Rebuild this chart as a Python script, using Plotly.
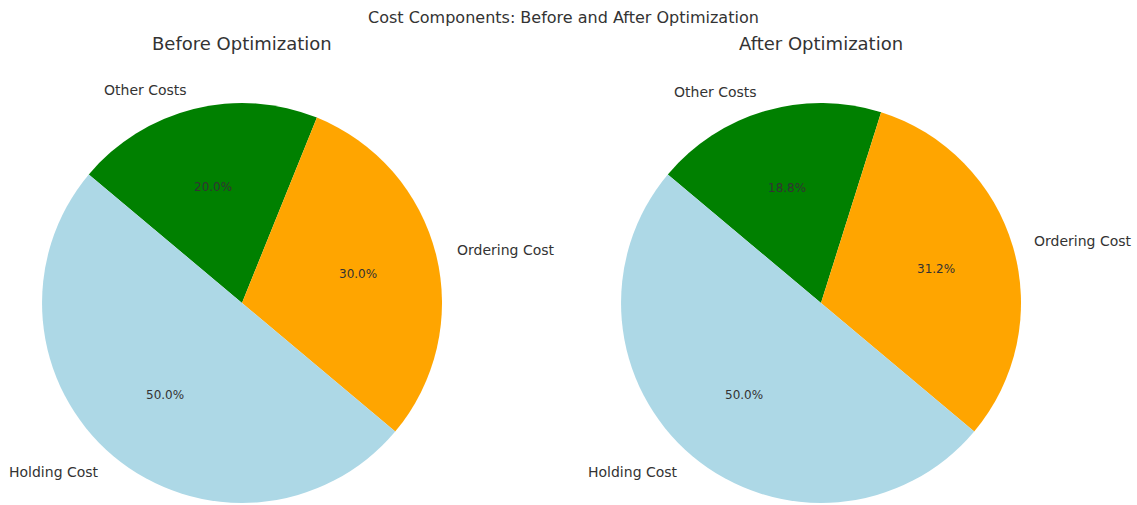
import math
import plotly.graph_objects as go

W, H = 1137, 505

labels = ["Holding Cost", "Ordering Cost", "Other Costs"]
before_values = [50.0, 30.0, 20.0]
after_values = [800, 500, 300]
colors = ["#ADD8E6", "#FFA500", "#008000"]
panel_titles = ["Before Optimization", "After Optimization"]
suptitle = "Cost Components: Before and After Optimization"

# pie geometry in pixels: centre x, centre y, radius
panels = [(242, 303, 200), (821, 303, 200)]
start_angle = 140  # degrees, counter-clockwise from 3 o'clock
text_color = "#333333"
font = "DejaVu Sans"

fig = go.Figure()
annotations = []

for (cx, cy, r), vals, title in zip(panels, [before_values, after_values], panel_titles):
    # wedges laid out counter-clockwise from start_angle are the same as the
    # reversed order laid out clockwise from start_angle
    fig.add_trace(go.Pie(
        labels=labels[::-1], values=vals[::-1], sort=False,
        direction="clockwise", rotation=90 - start_angle,
        marker=dict(colors=colors[::-1], line=dict(width=0)),
        textinfo="none", hoverinfo="label+percent", showlegend=False,
        domain=dict(x=[(cx - r) / W, (cx + r) / W],
                    y=[1 - (cy + r) / H, 1 - (cy - r) / H]),
    ))
    total = sum(vals)
    theta = start_angle
    for lab, v in zip(labels, vals):
        span = 360 * v / total
        mid = math.radians(theta + span / 2)
        theta += span
        c, s = math.cos(mid), math.sin(mid)
        # category label outside the wedge
        lx, ly = cx + 1.1 * r * c, cy - 1.1 * r * s
        annotations.append(dict(
            x=lx / W, y=1 - ly / H, xref="paper", yref="paper",
            text=lab, showarrow=False,
            xanchor="left" if c > 0 else "right", yanchor="middle",
            font=dict(family=font, size=14, color=text_color)))
        # percentage inside the wedge
        px, py = cx + 0.6 * r * c, cy - 0.6 * r * s
        annotations.append(dict(
            x=px / W, y=1 - py / H, xref="paper", yref="paper",
            text=f"{100 * v / total:.1f}%", showarrow=False,
            xanchor="center", yanchor="middle",
            font=dict(family=font, size=12, color=text_color)))
    annotations.append(dict(
        x=cx / W, y=1 - 44 / H, xref="paper", yref="paper",
        text=title, showarrow=False, xanchor="center", yanchor="middle",
        font=dict(family=font, size=18, color=text_color)))

annotations.append(dict(
    x=563 / W, y=1 - 17 / H, xref="paper", yref="paper",
    text=suptitle, showarrow=False, xanchor="center", yanchor="middle",
    font=dict(family=font, size=16, color=text_color)))

fig.update_layout(
    width=W, height=H, margin=dict(l=0, r=0, t=0, b=0),
    paper_bgcolor="white", plot_bgcolor="white",
    annotations=annotations,
)

fig.write_html("out.html")
